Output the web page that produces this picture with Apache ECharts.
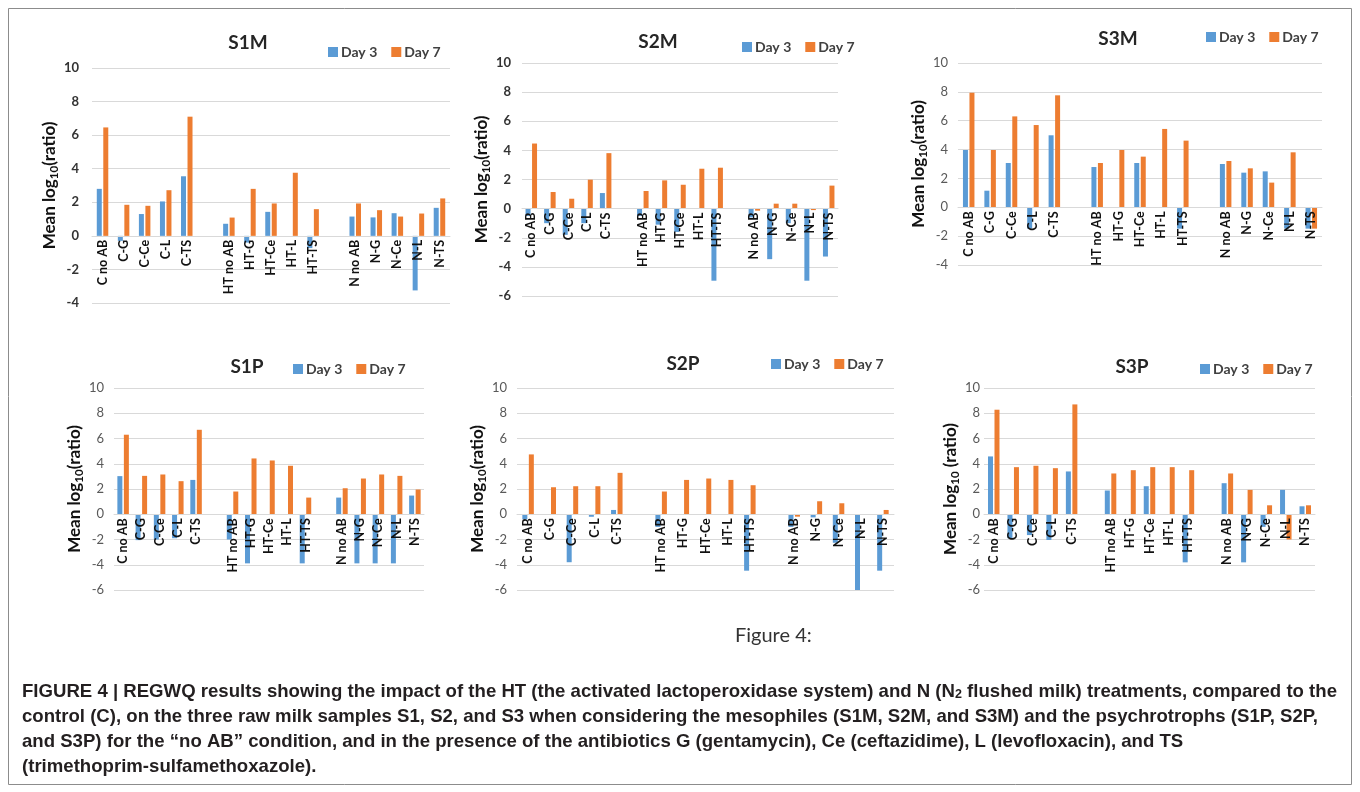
<!DOCTYPE html>
<html>
<head>
<meta charset="utf-8">
<script src="https://cdn.jsdelivr.net/npm/echarts@6/dist/echarts.min.js"></script>
<style>
  html, body { margin: 0; padding: 0; background: #fff; }
  #main { width: 1360px; height: 792px; }
</style>
</head>
<body>
<div id="main"></div>
<script>
// treatment order, a blank slot is put between the C, HT and N groups
var treatments = ['C no AB', 'C-G', 'C-Ce', 'C-L', 'C-TS',
    'HT no AB', 'HT-G', 'HT-Ce', 'HT-L', 'HT-TS',
    'N no AB', 'N-G', 'N-Ce', 'N-L', 'N-TS'];
var seriesNames = ['Day 3', 'Day 7'];

var s1mDay3 = [2.8, -0.3, 1.3, 2.05, 3.55, 0.72, -0.4, 1.43, 0, -0.73, 1.15, 1.1, 1.35, -3.25, 1.67];
var s1mDay7 = [6.46, 1.85, 1.79, 2.72, 7.1, 1.09, 2.8, 1.93, 3.76, 1.59, 1.93, 1.53, 1.15, 1.33, 2.23];

var s2mDay3 = [-0.5, -1.0, -1.8, -1.0, 1.07, -0.5, -1.1, -1.6, 0, -4.95, -0.6, -3.47, -1.0, -4.95, -3.29];
var s2mDay7 = [4.47, 1.14, 0.68, 1.99, 3.81, 1.21, 1.94, 1.64, 2.74, 2.81, -0.14, 0.34, 0.34, -0.1, 1.58];

var s3mDay3 = [3.97, 1.15, 3.07, -1.48, 4.99, 2.79, 0, 3.07, 0, -1.48, 3.0, 2.4, 2.49, -1.48, -1.48];
var s3mDay7 = [7.94, 3.97, 6.3, 5.7, 7.76, 3.07, 3.97, 3.51, 5.43, 4.62, 3.21, 2.7, 1.71, 3.81, -1.48];

var s1pDay3 = [3.02, -2.05, -2.0, -1.9, 2.72, -2.0, -3.89, 0, 0, -3.89, 1.32, -3.89, -3.89, -3.89, 1.48];
var s1pDay7 = [6.3, 3.04, 3.15, 2.62, 6.69, 1.8, 4.42, 4.26, 3.84, 1.32, 2.06, 2.83, 3.15, 3.04, 1.96];

var s2pDay3 = [-0.4, 0, -3.8, -0.2, 0.34, -1.0, 0, 0, 0, -4.47, -1.0, -0.25, -2.26, -6.06, -4.47];
var s2pDay7 = [4.74, 2.14, 2.22, 2.22, 3.28, 1.8, 2.72, 2.83, 2.72, 2.3, -0.19, 1.03, 0.87, 0, 0.34];

var s3pDay3 = [4.58, -1.9, -1.65, -2.04, 3.39, 1.88, 0, 2.22, 0, -3.81, 2.46, -3.81, -1.0, 1.93, 0.63];
var s3pDay7 = [8.28, 3.73, 3.84, 3.65, 8.7, 3.23, 3.49, 3.73, 3.73, 3.49, 3.23, 1.93, 0.71, -2.0, 0.71];

var yMax = 10;

var BLUE = '#5B9BD5';
var ORANGE = '#ED7D31';
var FONT = 'Lato';

function withGaps(arr, a, b) {
    return arr.slice(0, 5).concat([a], arr.slice(5, 10), [b], arr.slice(10));
}

var categories = withGaps(treatments, ' ', '  ');

// panel layout
var panels = [
    { name: 'S1M', d3: s1mDay3, d7: s1mDay7, min: -4, grid: { left: 92, top: 68, width: 358, height: 235 },
      title: [243, 28], legend: [323, 40], nameGap: 30, labelMargin: 13, boldY: true, yName: 'Mean log{s|10}(ratio)' },
    { name: 'S2M', d3: s2mDay3, d7: s2mDay7, min: -6, grid: { left: 522, top: 63, width: 316, height: 233 },
      title: [653, 27], legend: [737, 35], nameGap: 27, labelMargin: 11, boldY: true, yName: 'Mean log{s|10}(ratio)' },
    { name: 'S3M', d3: s3mDay3, d7: s3mDay7, min: -4, grid: { left: 958, top: 63, width: 364, height: 202 },
      title: [1113, 24], legend: [1201, 25], nameGap: 28, labelMargin: 10, boldY: false, yName: 'Mean log{s|10}(ratio)' },
    { name: 'S1P', d3: s1pDay3, d7: s1pDay7, min: -6, grid: { left: 114, top: 388, width: 310, height: 202 },
      title: [242, 352], legend: [288, 357], nameGap: 27, labelMargin: 10, boldY: false, yName: 'Mean log{s|10}(ratio)' },
    { name: 'S2P', d3: s2pDay3, d7: s2pDay7, min: -6, grid: { left: 517, top: 388, width: 377, height: 202 },
      title: [678, 349], legend: [766, 352], nameGap: 27, labelMargin: 10, boldY: false, yName: 'Mean log{s|10}(ratio)' },
    { name: 'S3P', d3: s3pDay3, d7: s3pDay7, min: -6, grid: { left: 984, top: 388, width: 331, height: 202 },
      title: [1127, 352], legend: [1195, 357], nameGap: 22, labelMargin: 4, boldY: false, yName: 'Mean log{s|10} (ratio)' }
];

var chartDom = document.getElementById('main');
var myChart = echarts.init(chartDom);
var option;

option = {
    backgroundColor: '#fff',
    animation: false,
    title: [],
    legend: [],
    grid: [],
    xAxis: [],
    yAxis: [],
    series: [],
    graphic: []
};

panels.forEach(function (p, i) {
    // the category labels sit just under the zero line, as in Excel
    var zeroShift = p.grid.height * (0 - p.min) / (yMax - p.min);

    option.title.push({
        text: p.name,
        left: p.title[0],
        top: p.title[1],
        textAlign: 'center',
        textStyle: { fontFamily: FONT, fontSize: 19, fontWeight: 'bold', color: '#262626' }
    });
    option.legend.push({
        data: seriesNames,
        left: p.legend[0],
        top: p.legend[1],
        itemWidth: 10,
        itemHeight: 10,
        itemGap: 14,
        icon: 'rect',
        textStyle: { fontFamily: FONT, fontSize: 14, fontWeight: 'bold', color: '#404040', padding: [0, 0, 0, -2] }
    });
    option.grid.push(p.grid);
    option.xAxis.push({
        type: 'category',
        gridIndex: i,
        data: categories,
        position: 'bottom',
        offset: -zeroShift,
        z: 5,
        axisTick: { show: false },
        axisLine: { onZero: false, lineStyle: { color: '#d9d9d9' } },
        axisLabel: {
            interval: 0,
            rotate: 90,
            margin: 4,
            fontFamily: FONT,
            fontSize: 12.5,
            fontWeight: 'bold',
            color: '#111'
        }
    });
    option.yAxis.push({
        type: 'value',
        gridIndex: i,
        min: p.min,
        max: yMax,
        interval: 2,
        name: p.yName,
        nameLocation: 'middle',
        nameRotate: 90,
        nameGap: p.nameGap,
        nameTextStyle: {
            fontFamily: FONT,
            fontSize: 17,
            fontWeight: 'bold',
            color: '#111',
            rich: {
                s: { fontFamily: FONT, fontSize: 11.5, fontWeight: 'bold', color: '#111', padding: [9, 0, 0, 0] }
            }
        },
        axisLine: { show: false },
        axisTick: { show: false },
        splitLine: { lineStyle: { color: '#d9d9d9' } },
        axisLabel: {
            margin: p.labelMargin,
            fontFamily: FONT,
            fontSize: 13,
            fontWeight: p.boldY ? 'bold' : 'normal',
            color: p.boldY ? '#333' : '#595959'
        }
    });
    option.series.push({
        name: seriesNames[0],
        type: 'bar',
        xAxisIndex: i,
        yAxisIndex: i,
        data: withGaps(p.d3, '-', '-'),
        barWidth: 5,
        barGap: '30%',
        itemStyle: { color: BLUE }
    });
    option.series.push({
        name: seriesNames[1],
        type: 'bar',
        xAxisIndex: i,
        yAxisIndex: i,
        data: withGaps(p.d7, '-', '-'),
        barWidth: 5,
        barGap: '30%',
        itemStyle: { color: ORANGE }
    });
});

var captionLines = [
    'FIGURE 4 | REGWQ results showing the impact of the HT (the activated lactoperoxidase system) and N (N{s|2} flushed milk) treatments, compared to the',
    'control (C), on the three raw milk samples S1, S2, and S3 when considering the mesophiles (S1M, S2M, and S3M) and the psychrotrophs (S1P, S2P,',
    'and S3P) for the \u201cno AB\u201d condition, and in the presence of the antibiotics G (gentamycin), Ce (ceftazidime), L (levofloxacin), and TS',
    '(trimethoprim-sulfamethoxazole).'
];

option.graphic.push({
    type: 'rect',
    shape: { x: 8.5, y: 8.5, width: 1343, height: 776 },
    style: { fill: 'none', stroke: '#8c8c8c', lineWidth: 1 },
    silent: true
});
option.graphic.push({
    type: 'text',
    left: 735,
    top: 626,
    style: { text: 'Figure 4:', font: '20px ' + FONT, fill: '#333' }
});
captionLines.forEach(function (line, k) {
    option.graphic.push({
        type: 'text',
        left: 22,
        top: 682 + k * 25,
        style: {
            text: line,
            fontFamily: 'Liberation Sans',
            fontSize: 18.6,
            fontWeight: 'bold',
            fill: '#231f20',
            rich: {
                s: { fontFamily: 'Liberation Sans', fontSize: 12.5, fontWeight: 'bold', fill: '#231f20', padding: [7, 0, 0, 0] }
            }
        }
    });
});

option && myChart.setOption(option);
</script>
</body>
</html>
